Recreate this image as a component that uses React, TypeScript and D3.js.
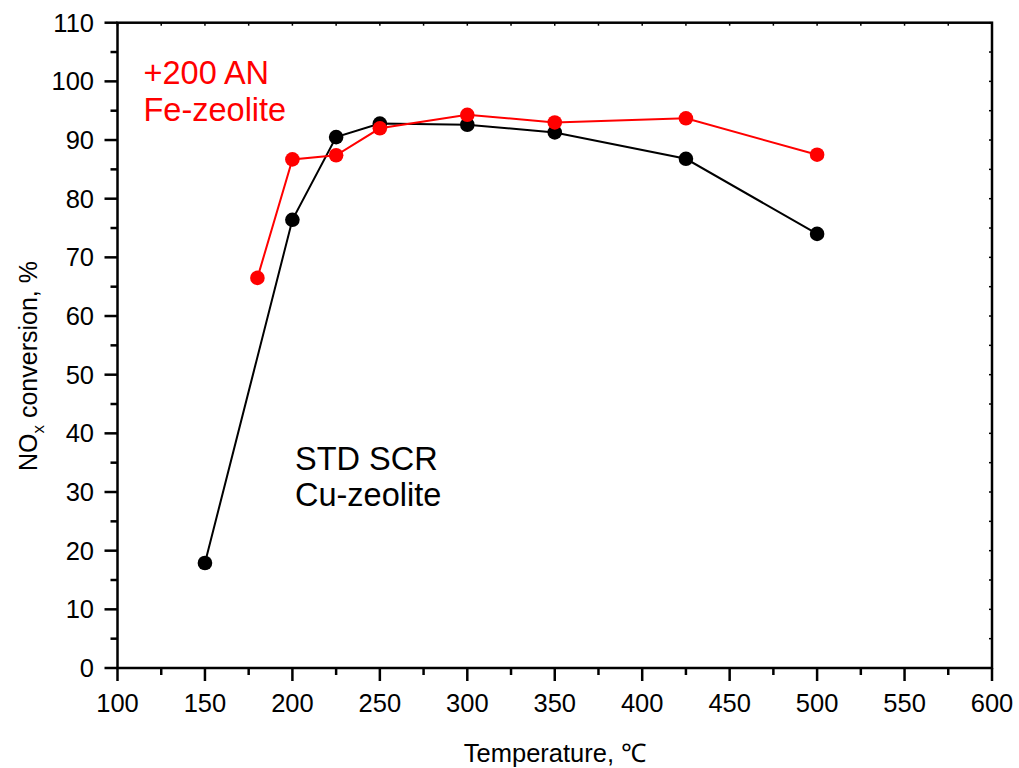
import React from "react";
import * as d3 from "d3";

const stdTemps = [150, 200, 225, 250, 300, 350, 425, 500];
const stdConv = [17.9, 76.4, 90.5, 92.8, 92.6, 91.3, 86.8, 74.0];
const anTemps = [180, 200, 225, 250, 300, 350, 425, 500];
const anConv = [66.5, 86.7, 87.4, 92.0, 94.3, 93.0, 93.7, 87.5];
const xTicks = [100, 150, 200, 250, 300, 350, 400, 450, 500, 550, 600];
const yTicks = [0, 10, 20, 30, 40, 50, 60, 70, 80, 90, 100, 110];

const W = 1019, H = 768;
const L = 117.5, R = 992, T = 22.7, B = 668;
const FONT = "Arial, 'Liberation Sans', Helvetica, sans-serif";

export default function App() {
  const x = d3.scaleLinear().domain([100, 600]).range([L, R]);
  const y = d3.scaleLinear().domain([0, 110]).range([B, T]);
  const line = d3.line<[number, number]>().x(d => x(d[0])).y(d => y(d[1]));
  const std: [number, number][] = stdTemps.map((t, i) => [t, stdConv[i]]);
  const an: [number, number][] = anTemps.map((t, i) => [t, anConv[i]]);
  const xMinor = d3.range(125, 600, 50);
  const yMinor = d3.range(5, 110, 10);

  return (
    <svg width={W} height={H} style={{ position: "absolute", left: 0, top: 0, background: "#fff" }} fontFamily={FONT}>
      <rect x={0} y={0} width={W} height={H} fill="#fff" />
      {/* frame */}
      <rect x={L} y={T} width={R - L} height={B - T} fill="none" stroke="#000" strokeWidth={2.5} />
      {/* bottom ticks */}
      {xTicks.map(t => (
        <g key={"xt" + t}>
          <line x1={x(t)} x2={x(t)} y1={B} y2={B + 13} stroke="#000" strokeWidth={2.5} />
          <line x1={x(t)} x2={x(t)} y1={T} y2={T + 3} stroke="#000" strokeWidth={1.5} />
          <text x={x(t)} y={712} fontSize={25.5} textAnchor="middle" fill="#000">{t}</text>
        </g>
      ))}
      {xMinor.map(t => (
        <g key={"xm" + t}>
          <line x1={x(t)} x2={x(t)} y1={B} y2={B + 7} stroke="#000" strokeWidth={2.5} />
          <line x1={x(t)} x2={x(t)} y1={T} y2={T + 3} stroke="#000" strokeWidth={1.5} />
        </g>
      ))}
      {yTicks.map(t => (
        <g key={"yt" + t}>
          <line x1={L} x2={L - 13} y1={y(t)} y2={y(t)} stroke="#000" strokeWidth={2.5} />
          <line x1={R} x2={R - 3} y1={y(t)} y2={y(t)} stroke="#000" strokeWidth={1.5} />
          <text x={94} y={y(t) + 9} fontSize={25.5} textAnchor="end" fill="#000">{t}</text>
        </g>
      ))}
      {yMinor.map(t => (
        <g key={"ym" + t}>
          <line x1={L} x2={L - 7} y1={y(t)} y2={y(t)} stroke="#000" strokeWidth={2.5} />
          <line x1={R} x2={R - 3} y1={y(t)} y2={y(t)} stroke="#000" strokeWidth={1.5} />
        </g>
      ))}
      {/* axis titles */}
      <text x={555} y={762} fontSize={25.5} textAnchor="middle" fill="#000">Temperature, ℃</text>
      <text transform={`translate(37,366) rotate(-90)`} fontSize={25} textAnchor="middle" fill="#000">
        NO<tspan fontSize={17} dy={7}>x</tspan><tspan dy={-7}> conversion, %</tspan>
      </text>
      {/* series */}
      <path d={line(std) || ""} fill="none" stroke="#000" strokeWidth={2} />
      {std.map((d, i) => <circle key={"s" + i} cx={x(d[0])} cy={y(d[1])} r={7.3} fill="#000" />)}
      <path d={line(an) || ""} fill="none" stroke="#ff0000" strokeWidth={2} />
      {an.map((d, i) => <circle key={"a" + i} cx={x(d[0])} cy={y(d[1])} r={7.3} fill="#ff0000" />)}
      {/* annotations */}
      <text x={143.5} y={84} fontSize={32.5} fill="#ff0000">+200 AN</text>
      <text x={143.5} y={121} fontSize={32.5} fill="#ff0000">Fe-zeolite</text>
      <text x={295} y={470} fontSize={32.5} fill="#000">STD SCR</text>
      <text x={295} y={506} fontSize={32.5} fill="#000">Cu-zeolite</text>
    </svg>
  );
}
